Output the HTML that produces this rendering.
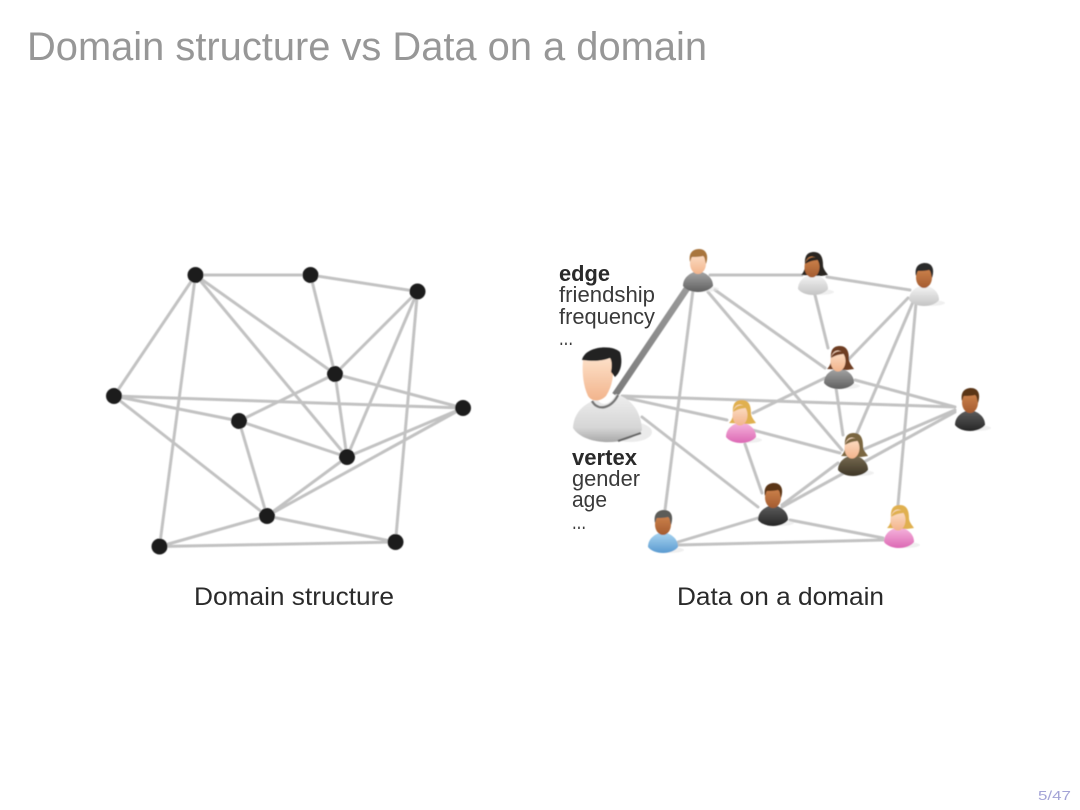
<!DOCTYPE html>
<html>
<head>
<meta charset="utf-8">
<title>Domain structure vs Data on a domain</title>
<style>
html,body{margin:0;padding:0;background:#fff;width:1080px;height:810px;overflow:hidden}
svg{display:block}
text{font-family:"Liberation Sans",sans-serif}
.e{stroke:#c2c2c2;stroke-width:3;fill:none;stroke-linecap:round}
.n{fill:#1e1e1e}
.l{fill:#3a3a3a;font-size:22px}
.b{font-weight:bold;fill:#2a2a2a}
.c{fill:#2a2a2a;font-size:25px}
</style>
</head>
<body>
<svg width="1080" height="810" viewBox="0 0 1080 810" xmlns="http://www.w3.org/2000/svg">
<defs>
<filter id="s" x="-5%" y="-5%" width="110%" height="110%"><feGaussianBlur stdDeviation="0.45"/></filter>
<linearGradient id="skin" x1="0" y1="0" x2="0" y2="1"><stop offset="0" stop-color="#fde0c8"/><stop offset="1" stop-color="#f2b48c"/></linearGradient>
<linearGradient id="dark" x1="0" y1="0" x2="0" y2="1"><stop offset="0" stop-color="#d0864e"/><stop offset="1" stop-color="#a45c30"/></linearGradient>
<linearGradient id="white" x1="0" y1="0" x2="0" y2="1"><stop offset="0" stop-color="#f4f4f4"/><stop offset="1" stop-color="#c4c4c4"/></linearGradient>
<linearGradient id="grey" x1="0" y1="0" x2="0" y2="1"><stop offset="0" stop-color="#a4a4a4"/><stop offset="1" stop-color="#606060"/></linearGradient>
<linearGradient id="black" x1="0" y1="0" x2="0" y2="1"><stop offset="0" stop-color="#5c5c5c"/><stop offset="1" stop-color="#262626"/></linearGradient>
<linearGradient id="pink" x1="0" y1="0" x2="0" y2="1"><stop offset="0" stop-color="#f5b4dc"/><stop offset="1" stop-color="#dc68b4"/></linearGradient>
<linearGradient id="blue" x1="0" y1="0" x2="0" y2="1"><stop offset="0" stop-color="#a8d4f0"/><stop offset="1" stop-color="#5a9ad0"/></linearGradient>
<linearGradient id="olive" x1="0" y1="0" x2="0" y2="1"><stop offset="0" stop-color="#766a50"/><stop offset="1" stop-color="#3e3626"/></linearGradient>
<linearGradient id="bb" x1="0" y1="0" x2="0" y2="1"><stop offset="0" stop-color="#eeeeee"/><stop offset=".7" stop-color="#d6d6d6"/><stop offset="1" stop-color="#a8a8a8"/></linearGradient>
<linearGradient id="thick" x1="0" y1="1" x2="1" y2="0"><stop offset="0" stop-color="#7c7c7c"/><stop offset="1" stop-color="#9a9a9a"/></linearGradient>
<g id="p">
<ellipse cx="6" cy="18" rx="15" ry="3" fill="#e6e6e6" opacity=".6"/>
<path d="M-15,15 C-15,7 -9,3 -4,1 L4,1 C9,3 15,7 15,15 C9,23 -9,23 -15,15Z" fill="var(--body)"/>
<ellipse cx="0" cy="-7.5" rx="8" ry="10.5" fill="var(--skin)"/>
<path d="M-8,-9 C-10,-19 -4,-22 1,-22 C8,-22 11,-16 8,-7 C7,-10 7,-14 5,-15 C1,-14 -4,-14 -6,-14 C-7,-13 -7,-11 -8,-9Z" fill="var(--hair)"/>
</g>
<g id="w">
<ellipse cx="6" cy="18" rx="15" ry="3" fill="#e6e6e6" opacity=".6"/>
<path d="M-15,15 C-15,7 -9,3 -4,1 L4,1 C9,3 15,7 15,15 C9,23 -9,23 -15,15Z" fill="var(--body)"/>
<path d="M-8,-9 C-9,-20 -4,-22 1,-22 C8,-22 10,-16 10,-9 C10,-5 13,-2 15,1 L8,2 L-12,1 C-9,-2 -8,-5 -8,-9Z" fill="var(--hair)"/>
<ellipse cx="-1" cy="-7" rx="7.5" ry="10.5" fill="var(--skin)"/>
<path d="M-8,-10 C-6,-17 2,-19 6,-14 C2,-14 -3,-13 -8,-10Z" fill="var(--hair)"/>
</g>
</defs>

<text x="27" y="60" font-size="40" fill="#979797" textLength="680" lengthAdjust="spacingAndGlyphs">Domain structure vs Data on a domain</text>

<g filter="url(#s)">
<!-- Left graph -->
<path class="e" d="M195.5,275 L310.5,275 M310.5,275 L417.5,291.5 M195.5,275 L114,396 M195.5,275 L159.5,546.5 M195.5,275 L335,374 M195.5,275 L347,457 M310.5,275 L335,374 M417.5,291.5 L335,374 M417.5,291.5 L347,457 M417.5,291.5 L395.5,542 M335,374 L239,421 M335,374 L347,457 M335,374 L463,408 M114,396 L463,408 M114,396 L239,421 M114,396 L267,516 M239,421 L347,457 M239,421 L267,516 M347,457 L463,408 M347,457 L267,516 M267,516 L463,408 M267,516 L159.5,546.5 M267,516 L395.5,542 M159.5,546.5 L395.5,542"/>
<g class="n">
<circle cx="195.5" cy="275" r="8"/><circle cx="310.5" cy="275" r="8"/><circle cx="417.5" cy="291.5" r="8"/><circle cx="335" cy="374" r="8"/><circle cx="114" cy="396" r="8"/><circle cx="463" cy="408" r="8"/><circle cx="239" cy="421" r="8"/><circle cx="347" cy="457" r="8"/><circle cx="267" cy="516" r="8"/><circle cx="159.5" cy="546.5" r="8"/><circle cx="395.5" cy="542" r="8"/>
</g>

<!-- Right graph edges -->
<path class="e" d="M710,275 L802,275 M827,277 L910,290 M715,290 L825,368 M708,292 L842,450 M815,295 L828,348 M908,298 L848,360 M913,302 L857,433 M916,303 L898,505 M825,378 L753,413 M836,388 L843,435 M855,380 L955,407 M622,396 L955,407 M622,397 L727,420 M745,428 L840,453 M642,417 L758,507 M745,444 L762,493 M862,450 L955,410 M838,463 L782,505 M782,507 L955,412 M790,520 L883,538 M678,545 L883,540 M678,542 L758,518 M693,290 L665,510"/>
<path d="M615,395 L688,287" stroke="url(#thick)" stroke-width="6.5" fill="none"/>

<!-- People -->
<use href="#p" transform="translate(698,271)" style="--body:url(#grey);--skin:url(#skin);--hair:#a8753c"/>
<use href="#w" transform="translate(813,274)" style="--body:url(#white);--skin:url(#dark);--hair:#2a2622"/>
<use href="#p" transform="translate(924,285)" style="--body:url(#white);--skin:url(#dark);--hair:#2a2a2a"/>
<use href="#w" transform="translate(839,368)" style="--body:url(#grey);--skin:url(#skin);--hair:#6e3c22"/>
<use href="#p" transform="translate(970,410)" style="--body:url(#black);--skin:url(#dark);--hair:#5a3418"/>
<use href="#w" transform="translate(741,422)" style="--body:url(#pink);--skin:url(#skin);--hair:#e0b050"/>
<use href="#w" transform="translate(853,455)" style="--body:url(#olive);--skin:url(#skin);--hair:#7a6640"/>
<use href="#p" transform="translate(773,505)" style="--body:url(#black);--skin:url(#dark);--hair:#5a3418"/>
<use href="#p" transform="translate(663,532)" style="--body:url(#blue);--skin:url(#dark);--hair:#5c5c58"/>
<use href="#w" transform="translate(899,527)" style="--body:url(#pink);--skin:url(#skin);--hair:#e0b050"/>

<!-- Large person -->
<ellipse cx="630" cy="432" rx="22" ry="10" fill="#e2e2e2" opacity=".7"/>
<path d="M573,428 C574,412 584,404 597,399 C602,407 610,405 616,394 C630,398 641,410 642,430 C630,446 585,447 573,428Z" fill="url(#bb)"/>
<path d="M592,401 C598,412 612,408 618,395" fill="none" stroke="#777" stroke-width="2.5"/>
<path d="M618,441 L641,433" fill="none" stroke="#666" stroke-width="2"/>
<path d="M583,360 C590,362 602,361 611,358 C615,372 613,385 606,396 C600,402 592,402 588,396 C583,385 582,372 583,360Z" fill="url(#skin)"/>
<path d="M582,360 C585,346 612,344 620,352 C623,362 621,372 615,377 L611,372 C612,366 612,361 610,358 C600,362 590,361 582,360Z" fill="#242424"/>
</g>

<!-- Labels -->
<text class="l b" x="559" y="281" textLength="51" lengthAdjust="spacingAndGlyphs">edge</text>
<text class="l" x="559" y="302" textLength="96" lengthAdjust="spacingAndGlyphs">friendship</text>
<text class="l" x="559" y="324" textLength="96" lengthAdjust="spacingAndGlyphs">frequency</text>
<text class="l" x="559" y="345" textLength="14" lengthAdjust="spacingAndGlyphs">...</text>
<text class="l b" x="572" y="465" textLength="65" lengthAdjust="spacingAndGlyphs">vertex</text>
<text class="l" x="572" y="486" textLength="68" lengthAdjust="spacingAndGlyphs">gender</text>
<text class="l" x="572" y="507" textLength="35" lengthAdjust="spacingAndGlyphs">age</text>
<text class="l" x="572" y="529" textLength="14" lengthAdjust="spacingAndGlyphs">...</text>

<text class="c" x="194" y="605" textLength="200" lengthAdjust="spacingAndGlyphs">Domain structure</text>
<text class="c" x="677" y="605" textLength="207" lengthAdjust="spacingAndGlyphs">Data on a domain</text>

<text x="1038" y="800" font-size="13" fill="#a3a3d6" textLength="33" lengthAdjust="spacingAndGlyphs">5/47</text>
</svg>
</body>
</html>
